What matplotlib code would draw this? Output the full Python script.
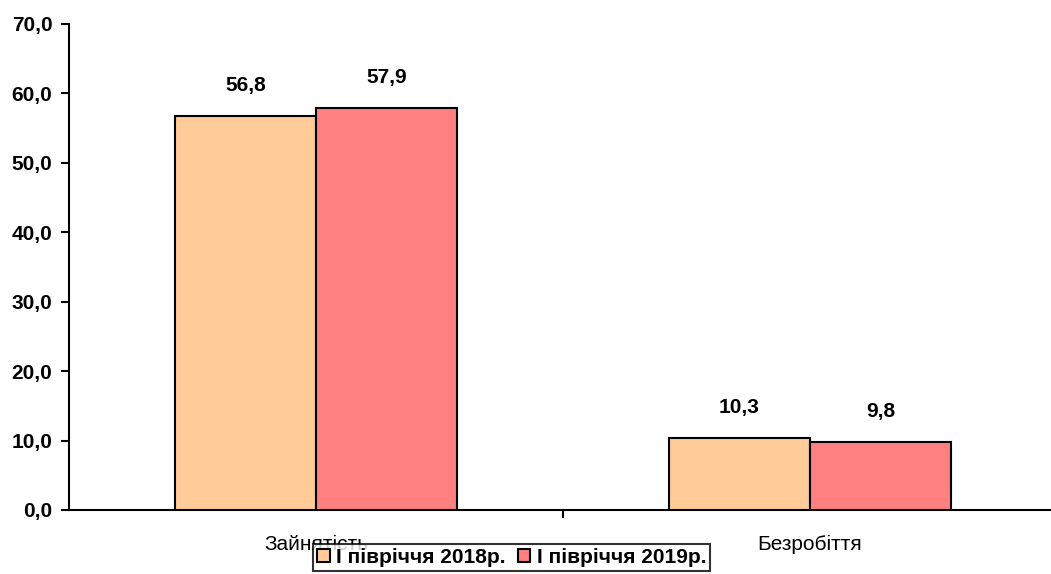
import matplotlib.pyplot as plt
import numpy as np

plt.rcParams['font.family'] = ['Liberation Sans', 'DejaVu Sans']

categories = ['Зайнятість', 'Безробіття']
series_names = ['І півріччя 2018р.', 'І півріччя 2019р.']
values_2018 = [56.8, 10.3]
values_2019 = [57.9, 9.8]
colors = ['#FFCC99', '#FF8080']

fig = plt.figure(figsize=(10.51, 5.74), dpi=100)
# plot area runs slightly past the right edge of the image, as in the original
ax = fig.add_axes([69 / 1051, 1 - 510 / 574, (1057 - 69) / 1051, (510 - 24) / 574])

x = np.arange(len(categories))
width = 0.2855

for off, vals, col, name in [(-width / 2, values_2018, colors[0], series_names[0]),
                             (width / 2, values_2019, colors[1], series_names[1])]:
    bars = ax.bar(x + off, vals, width, color=col, edgecolor='black',
                  linewidth=1.5, label=name, zorder=3)
    for b, v in zip(bars, vals):
        ax.annotate(f'{v:.1f}'.replace('.', ','),
                    xy=(b.get_x() + b.get_width() / 2, v),
                    xytext=(0, 22), textcoords='offset points',
                    ha='center', va='center', fontsize=15, fontweight='bold')

ax.set_xlim(-0.5, len(categories) - 0.5)
ax.set_ylim(0, 70)
ax.set_yticks(np.arange(0, 71, 10))
ax.set_yticklabels([f'{t:.1f}'.replace('.', ',') for t in np.arange(0, 71, 10)],
                   fontsize=15, fontweight='bold')

# category labels at group centres, tick marks between groups
ax.set_xticks(x)
ax.set_xticklabels(categories, fontsize=15)
ax.tick_params(axis='x', length=0, pad=18)
ax.set_xticks([0.5], minor=True)
ax.tick_params(axis='x', which='minor', length=6, width=1.5, direction='out')
ax.tick_params(axis='y', length=6, width=1.5, direction='out', pad=6)

for s in ['top', 'right']:
    ax.spines[s].set_visible(False)
ax.spines['left'].set_linewidth(1.5)
ax.spines['bottom'].set_linewidth(1.5)

leg = fig.legend(loc='upper left', bbox_to_anchor=(313 / 1051, 1 - 544 / 574),
                 ncol=2, frameon=True, fancybox=False, shadow=False,
                 prop={'weight': 'bold', 'size': 15},
                 handlelength=0.6, handleheight=0.6, handletextpad=0.3,
                 columnspacing=0.6, borderpad=0.2, borderaxespad=0)
leg.get_frame().set_edgecolor('black')
leg.get_frame().set_linewidth(1.5)

fig.savefig('out.png', dpi=100)
